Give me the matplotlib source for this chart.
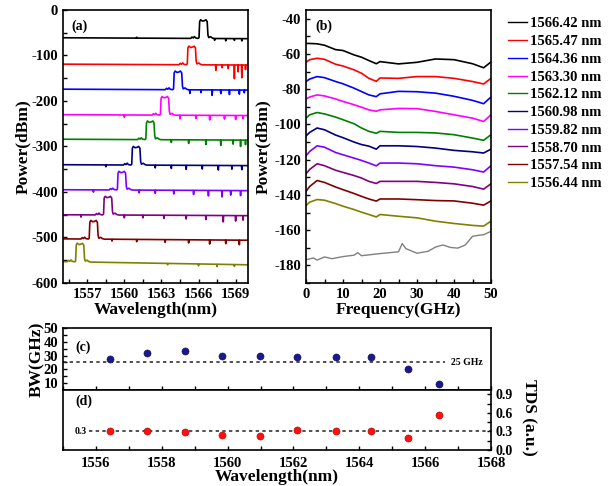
import numpy as np
import matplotlib
matplotlib.use('Agg')
import matplotlib.pyplot as plt
from matplotlib.ticker import MultipleLocator

plt.rcParams['font.family'] = ['Liberation Serif', 'DejaVu Serif']
plt.rcParams['font.weight'] = 'bold'
plt.rcParams['axes.labelweight'] = 'bold'
plt.rcParams['axes.unicode_minus'] = False
plt.rcParams['axes.linewidth'] = 1.2
plt.rcParams['xtick.direction'] = 'in'
plt.rcParams['ytick.direction'] = 'in'

# ---- data ----
wavelengths = [1566.42, 1565.47, 1564.36, 1563.30, 1562.12,
               1560.98, 1559.82, 1558.70, 1557.54, 1556.44]
labels = ['%.2f nm' % w for w in wavelengths]
colors = ['#000000', '#ff0000', '#0000ff', '#ff00ff', '#008000',
          '#000080', '#8000ff', '#800080', '#800000', '#808000']

# (a) optical spectra: baseline at 1555 nm / 1570 nm (dBm, offset traces)
base_left = [-61, -119, -174, -230, -284, -340, -395, -450, -503, -553]
base_right = [-63, -121, -176, -232, -286, -342, -397, -452, -506, -560]
# lasing line profile relative to centre wavelength / baseline
peak_dx = [-1.05, -0.95, -0.85, -0.75, -0.65, -0.45, -0.38, -0.33, -0.25,
           -0.10, 0.05, 0.18, 0.28, 0.34, 0.40, 0.55, 0.70, 0.85]
peak_dy = [0, 3, 1, 4, 1, 0, 2, 37, 41, 38, 39, 41, 37, 8, 2, 4, 1, 0]
# noise dips (wavelength, depth in dB)
dips = [
    [(1561.0, -2), (1567.3, 4), (1568.2, 5), (1568.9, 4), (1569.5, 5)],
    [(1567.4, 12), (1567.9, 6), (1568.4, 8), (1568.9, 30), (1569.2, 15), (1569.5, 28), (1569.8, 10)],
    [(1565.3, 8), (1566.2, 6), (1567.1, 12), (1567.8, 8), (1568.5, 10), (1569.3, 9), (1569.7, 6)],
    [(1560.0, 5), (1564.5, 8), (1565.8, 7), (1566.9, 10), (1568.1, 8), (1569.0, 9), (1569.6, 7)],
    [(1563.8, 6), (1565.2, 8), (1566.6, 10), (1567.8, 12), (1568.8, 9), (1569.4, 14), (1569.8, 10)],
    [(1558.5, 4), (1562.5, 6), (1563.8, 7), (1565.0, 9), (1566.3, 8), (1567.6, 10), (1568.7, 8), (1569.5, 9)],
    [(1557.5, 5), (1561.2, 6), (1562.5, 7), (1564.0, 8), (1565.6, 9), (1566.8, 12), (1567.9, 14), (1568.6, 10), (1569.4, 11)],
    [(1556.5, 5), (1560.0, 6), (1561.5, 6), (1563.2, 7), (1565.0, 8), (1566.6, 9), (1568.0, 14), (1569.0, 12), (1569.6, 10)],
    [(1559.0, 4), (1561.0, 5), (1563.3, 6), (1565.2, 7), (1566.9, 9), (1568.2, 8), (1569.3, 10)],
    [(1563.5, 3), (1566.0, 4), (1567.5, 5), (1568.9, 4)],
]

# (b) RF spectra levels (dBm) at these frequencies (GHz)
rf_freq = [0, 1, 3, 5, 8, 10, 13, 15, 17, 19, 20, 25, 30, 35, 40, 45, 48, 50]
rf_levels = [
    [-54.0, -54.0, -54.2, -55.0, -57.5, -58.0, -60.5, -61.8, -63.7, -65.5, -64.3, -65.6, -64.7, -62.8, -63.2, -65.5, -67.8, -64.5],
    [-64.7, -63.2, -62.4, -63.0, -65.8, -66.8, -69.0, -70.9, -73.8, -75.5, -73.6, -73.8, -72.8, -72.8, -73.8, -75.6, -77.0, -73.8],
    [-75.6, -74.2, -72.8, -73.4, -75.6, -76.9, -79.4, -81.3, -83.2, -84.2, -82.6, -81.2, -81.4, -82.2, -84.0, -86.3, -88.2, -84.4],
    [-85.5, -84.4, -83.2, -83.8, -85.5, -86.9, -88.8, -90.2, -91.7, -92.5, -91.7, -90.9, -91.0, -92.6, -94.5, -96.4, -98.3, -94.5],
    [-96.4, -94.5, -93.2, -94.0, -95.8, -97.3, -99.6, -102.0, -103.9, -105.0, -103.9, -104.5, -104.5, -104.8, -105.8, -107.7, -109.0, -105.8],
    [-106.5, -104.5, -102.0, -103.0, -106.0, -107.5, -110.0, -111.4, -112.3, -114.0, -112.1, -112.1, -112.5, -113.4, -114.7, -115.5, -116.2, -114.0],
    [-117.8, -115.3, -112.1, -112.9, -115.9, -117.2, -119.1, -120.4, -121.9, -123.5, -121.9, -121.9, -122.3, -123.4, -124.2, -125.7, -127.0, -123.4],
    [-128.0, -125.5, -122.3, -123.4, -126.0, -127.2, -129.0, -130.4, -132.3, -133.5, -132.3, -132.3, -132.3, -132.9, -133.7, -135.2, -136.7, -133.7],
    [-138.0, -135.2, -131.8, -132.9, -135.5, -137.0, -139.2, -140.8, -142.3, -143.5, -142.3, -142.3, -142.7, -143.2, -143.4, -144.7, -145.8, -143.4],
    [-146.0, -144.1, -142.6, -143.0, -144.9, -146.4, -148.3, -149.8, -151.1, -152.5, -151.1, -152.1, -153.0, -154.9, -156.2, -157.3, -157.7, -154.9],
]
floor_freq = [0, 2, 3, 5, 7, 10, 13, 14, 15, 20, 25, 26, 27, 30, 33, 35, 37, 39, 41, 43, 45, 47, 48, 50]
floor_level = [-176.8, -175.8, -177.0, -175.2, -176.2, -175.0, -174.2, -172.8, -174.5, -173.3, -172.3,
               -167.6, -170.5, -173.1, -172.0, -169.6, -168.4, -169.8, -170.2, -168.5, -163.5, -162.8,
               -162.6, -160.7]

# (c), (d) bandwidth and TDS vs wavelength
bw_ghz = [9.5, 20.5, 28.7, 29.2, 28.6, 29.5, 29.5, 33.4, 31.9, 27.6]
tds = [0.57, 0.20, 0.30, 0.30, 0.33, 0.23, 0.24, 0.29, 0.30, 0.31]


def px(l, t, r, b):
    W, H = 616.0, 486.0
    return [l / W, 1 - b / H, (r - l) / W, (b - t) / H]


fig = plt.figure(figsize=(6.16, 4.86), dpi=100)

# ---- (a) ----
ax_a = fig.add_axes(px(62.5, 10, 248, 283))
for i, wl in enumerate(wavelengths):
    feats = [(wl + dx, dy) for dx, dy in zip(peak_dx, peak_dy)]
    for xd, depth in dips[i]:
        feats += [(xd - 0.03, 0), (xd, -depth), (xd + 0.03, 0)]
    feats = sorted(feats)
    xs = np.array([1555.0] + [f[0] for f in feats] + [1570.0])
    rel = np.array([0.0] + [f[1] for f in feats] + [0.0])
    base = np.interp(xs, [1555, 1570], [base_left[i], base_right[i]])
    ax_a.plot(xs, base + rel, color=colors[i], lw=1.2)
ax_a.set_xlim(1555, 1570)
ax_a.set_ylim(-600, 0)
ax_a.xaxis.set_major_locator(MultipleLocator(3))
ax_a.xaxis.set_minor_locator(MultipleLocator(1.5))
ax_a.yaxis.set_major_locator(MultipleLocator(100))
ax_a.yaxis.set_minor_locator(MultipleLocator(50))
ax_a.tick_params(which='both', labelsize=10.5, length=3, width=1)
ax_a.set_xlabel('Wavelength(nm)', fontsize=12.5, labelpad=1)
ax_a.set_ylabel('Power(dBm)', fontsize=12.5, va='center')
ax_a.yaxis.set_label_coords(-0.213, 0.5)
ax_a.text(0.05, 0.965, '(a)', transform=ax_a.transAxes, fontsize=10, va='top')

# ---- (b) ----
ax_b = fig.add_axes(px(306, 10, 491, 283))
for i in range(len(wavelengths)):
    ax_b.plot(rf_freq, rf_levels[i], color=colors[i], lw=1.2, label=labels[i])
ax_b.plot(floor_freq, floor_level, color='#808080', lw=1.0)
ax_b.set_xlim(0, 50)
ax_b.set_ylim(-190, -35)
ax_b.xaxis.set_major_locator(MultipleLocator(10))
ax_b.xaxis.set_minor_locator(MultipleLocator(5))
ax_b.yaxis.set_major_locator(MultipleLocator(20))
ax_b.yaxis.set_minor_locator(MultipleLocator(10))
ax_b.tick_params(which='both', labelsize=10.5, length=3, width=1)
ax_b.set_xlabel('Frequency(GHz)', fontsize=12.5, labelpad=1)
ax_b.set_ylabel('Power(dBm)', fontsize=12.5, va='center')
ax_b.yaxis.set_label_coords(-0.232, 0.5)
ax_b.text(0.05, 0.965, '(b)', transform=ax_b.transAxes, fontsize=10, va='top')
leg = ax_b.legend(loc='upper left', bbox_to_anchor=(1.05, 1.0), frameon=False,
                  fontsize=10.5, handlelength=1.3, handletextpad=0.25,
                  labelspacing=0.31, borderaxespad=0.1)
for h in leg.get_lines():
    h.set_linewidth(1.0)

# ---- (c) ----
ax_c = fig.add_axes(px(63, 328, 491, 390))
ax_c.axhline(25, xmin=0, xmax=(1566.6 - 1555) / 13, color='#333333', lw=1.2, ls=(0, (2, 2)))
ax_c.scatter(wavelengths, bw_ghz, s=26, color='#1a1a8c', edgecolor='#0a0a50', lw=0.4, zorder=3)
ax_c.text(1566.8, 25, '25 GHz', fontsize=7, va='center', ha='left')
ax_c.set_xlim(1555, 1568)
ax_c.set_ylim(5, 50)
ax_c.xaxis.set_major_locator(MultipleLocator(1))
ax_c.yaxis.set_major_locator(MultipleLocator(10))
ax_c.yaxis.set_minor_locator(MultipleLocator(5))
ax_c.tick_params(which='both', labelsize=10.5, length=3, width=1, labelbottom=False)
ax_c.set_ylabel('BW(GHz)', fontsize=12.5, va='center')
ax_c.yaxis.set_label_coords(-0.0615, 0.5)
ax_c.text(0.03, 0.8, '(c)', transform=ax_c.transAxes, fontsize=10, va='top')

# ---- (d) ----
ax_d = fig.add_axes(px(63, 390, 491, 450))
ax_d.axhline(0.3, xmin=(1555.78 - 1555) / 13, xmax=1, color='#333333', lw=1.2, ls=(0, (2, 2)))
ax_d.scatter(wavelengths, tds, s=26, color='#ff1010', edgecolor='#b00000', lw=0.4, zorder=3)
ax_d.text(1555.72, 0.3, '0.3', fontsize=7, va='center', ha='right')
ax_d.set_xlim(1555, 1568)
ax_d.set_ylim(0, 0.97)
ax_d.xaxis.set_major_locator(MultipleLocator(2))
ax_d.xaxis.set_minor_locator(MultipleLocator(1))
ax_d.yaxis.set_major_locator(MultipleLocator(0.3))
ax_d.yaxis.set_minor_locator(MultipleLocator(0.15))
ax_d.yaxis.set_label_position('right')
ax_d.yaxis.tick_right()
ax_d.tick_params(which='both', labelsize=10.5, length=3, width=1)
ax_d.tick_params(axis='x', pad=5)
ax_d.tick_params(axis='y', labelsize=10)
ax_d.set_xlabel('Wavelength(nm)', fontsize=12.5, labelpad=-1)
ax_d.set_ylabel('TDS (a.u.)', fontsize=12.5, rotation=270, va='center')
ax_d.yaxis.set_label_coords(1.087, 0.55)
ax_d.text(0.03, 0.93, '(d)', transform=ax_d.transAxes, fontsize=10, va='top')

fig.savefig('out.png', dpi=100)
